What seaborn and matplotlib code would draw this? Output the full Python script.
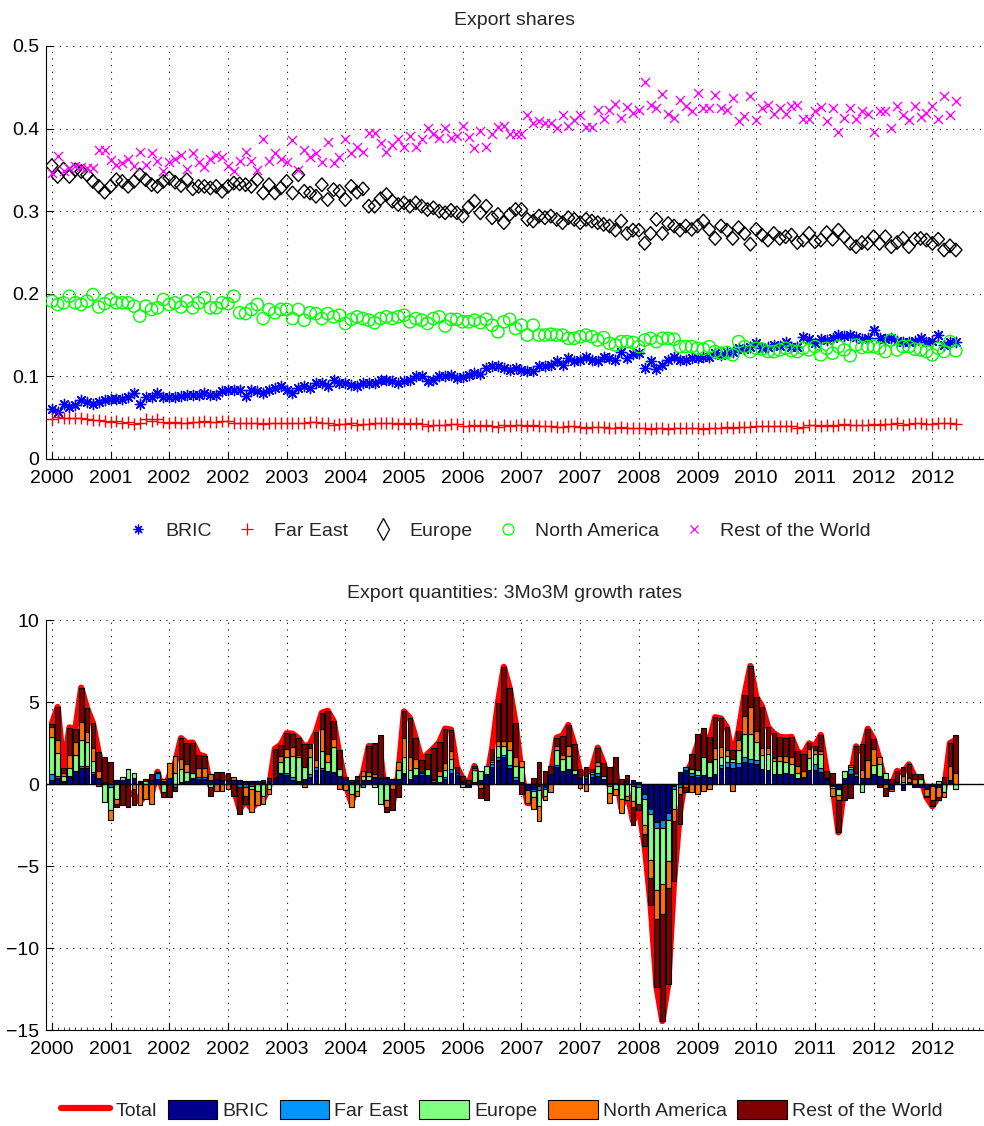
import numpy as np
import pandas as pd
import matplotlib
matplotlib.use("Agg")
import matplotlib.pyplot as plt
import seaborn as sns
from matplotlib import font_manager
from matplotlib.lines import Line2D
from matplotlib.patches import Patch
from matplotlib.path import Path

# x tick labels, one every 10 months
tick_labels = ["2000", "2001", "2002", "2002", "2003", "2004", "2005", "2006",
               "2007", "2007", "2008", "2009", "2010", "2011", "2012", "2012"]

# export shares (monthly)
bric_share = [
    .061, .057, .067, .063, .065, .071, .069, .067, .069, .071,
    .073, .073, .073, .075, .080, .067, .075, .075, .080, .075,
    .075, .075, .076, .077, .078, .077, .080, .078, .077, .082,
    .084, .084, .083, .076, .083, .082, .080, .084, .086, .088,
    .084, .080, .086, .088, .086, .092, .092, .088, .096, .092,
    .092, .090, .088, .092, .092, .092, .095, .096, .094, .092,
    .094, .096, .101, .100, .094, .096, .100, .101, .102, .098,
    .099, .102, .104, .103, .110, .112, .112, .110, .108, .110,
    .108, .107, .106, .112, .112, .114, .118, .114, .122, .118,
    .120, .124, .120, .118, .123, .122, .120, .130, .122, .127,
    .128, .110, .118, .109, .114, .120, .124, .120, .120, .122,
    .122, .123, .124, .128, .126, .130, .130, .134, .133, .135,
    .140, .134, .136, .138, .137, .142, .136, .136, .148, .145,
    .140, .145, .144, .146, .150, .149, .150, .148, .145, .146,
    .156, .146, .145, .146, .143, .142, .141, .143, .146, .142,
    .143, .150, .138, .142, .142]
fareast_share = [
    .048, .051, .050, .049, .050, .049, .048, .047, .047, .046,
    .045, .046, .044, .045, .042, .043, .048, .046, .048, .045,
    .044, .045, .044, .044, .045, .045, .046, .045, .045, .046,
    .046, .043, .044, .044, .043, .044, .042, .043, .043, .043,
    .043, .044, .043, .044, .045, .045, .044, .043, .041, .042,
    .042, .043, .041, .042, .042, .043, .043, .044, .043, .042,
    .043, .042, .043, .042, .040, .041, .041, .041, .042, .042,
    .040, .040, .041, .040, .041, .040, .039, .041, .040, .041,
    .041, .040, .041, .040, .040, .040, .039, .039, .040, .040,
    .039, .038, .039, .039, .039, .038, .038, .039, .038, .038,
    .038, .037, .036, .037, .038, .036, .037, .037, .038, .038,
    .037, .036, .038, .038, .038, .039, .038, .039, .039, .039,
    .040, .040, .040, .040, .040, .040, .040, .037, .039, .041,
    .041, .040, .041, .040, .041, .042, .041, .041, .041, .041,
    .042, .041, .042, .042, .043, .041, .042, .043, .043, .042,
    .042, .043, .043, .043, .042]
europe_share = [
    .355, .342, .351, .342, .350, .348, .344, .336, .330, .323,
    .330, .338, .336, .330, .336, .344, .338, .332, .330, .336,
    .340, .335, .331, .338, .327, .330, .330, .328, .330, .324,
    .330, .334, .333, .332, .330, .338, .322, .332, .322, .328,
    .336, .322, .344, .324, .322, .318, .332, .314, .326, .324,
    .314, .330, .323, .327, .306, .306, .315, .320, .312, .308,
    .310, .306, .310, .306, .302, .304, .300, .298, .301, .298,
    .294, .305, .312, .298, .306, .292, .296, .286, .296, .302,
    .302, .290, .288, .294, .292, .294, .290, .286, .292, .290,
    .286, .290, .288, .286, .284, .282, .277, .288, .273, .277,
    .277, .261, .273, .290, .273, .285, .282, .277, .282, .278,
    .282, .288, .278, .267, .282, .277, .267, .280, .273, .260,
    .278, .271, .265, .273, .267, .269, .271, .262, .265, .273,
    .263, .265, .274, .266, .277, .269, .261, .257, .262, .261,
    .269, .261, .269, .257, .262, .267, .257, .266, .267, .265,
    .261, .266, .253, .258, .253]
namerica_share = [
    .191, .187, .189, .197, .189, .187, .191, .199, .184, .188,
    .193, .189, .189, .189, .185, .173, .185, .181, .183, .193,
    .187, .189, .184, .191, .183, .189, .195, .183, .183, .189,
    .188, .197, .177, .176, .181, .187, .170, .181, .177, .181,
    .181, .170, .181, .168, .177, .176, .170, .176, .172, .174,
    .164, .169, .172, .170, .168, .165, .170, .172, .170, .172,
    .174, .166, .170, .168, .164, .170, .172, .161, .169, .169,
    .166, .166, .168, .165, .169, .162, .154, .166, .169, .158,
    .162, .150, .162, .150, .150, .151, .150, .150, .146, .146,
    .148, .150, .148, .144, .147, .140, .138, .142, .142, .141,
    .136, .144, .146, .142, .146, .146, .145, .136, .136, .136,
    .134, .133, .136, .130, .128, .129, .126, .142, .136, .130,
    .134, .133, .130, .130, .132, .134, .131, .130, .134, .132,
    .136, .126, .134, .128, .136, .132, .125, .138, .135, .136,
    .136, .134, .130, .144, .132, .136, .136, .133, .132, .130,
    .126, .134, .130, .142, .131]
row_share = [
    .346, .367, .348, .352, .355, .354, .352, .352, .374, .374,
    .362, .356, .358, .363, .355, .372, .356, .370, .361, .348,
    .359, .363, .368, .351, .370, .360, .354, .363, .368, .366,
    .355, .349, .361, .371, .361, .350, .387, .361, .370, .363,
    .360, .386, .350, .374, .366, .370, .359, .384, .358, .366,
    .387, .370, .378, .371, .395, .395, .382, .371, .380, .387,
    .378, .391, .378, .387, .401, .393, .389, .401, .389, .391,
    .403, .390, .376, .397, .378, .394, .402, .403, .393, .393,
    .393, .417, .407, .409, .407, .407, .401, .416, .403, .410,
    .417, .402, .402, .423, .411, .422, .430, .413, .426, .419,
    .423, .456, .428, .425, .442, .418, .413, .435, .427, .421,
    .443, .425, .425, .441, .425, .422, .437, .409, .415, .440,
    .410, .425, .429, .418, .425, .418, .427, .428, .411, .411,
    .421, .426, .409, .425, .396, .413, .425, .411, .421, .418,
    .396, .421, .421, .401, .427, .416, .410, .427, .414, .419,
    .427, .411, .439, .416, .433]

# contributions to 3Mo3M export growth
bric_growth = [
    .27, .4, .15, .5, .8, .95, 1.0, .63, .33, .1,
    0, .22, .25, .33, .4, .1, 0, .25, .3, .2,
    .4, 0, .1, .2, .33, .3, .33, .25, .3, .22,
    .2, .25, .25, .1, .2, .2, .1, .2, .4, .6,
    .53, .22, .1, .22, .43, .88, .85, .8, .75, .5,
    .33, .1, .25, .22, .22, .43, .37, .37, .33, .33,
    .6, .33, .57, .57, .53, .12, .1, .33, .67, .53,
    .1, -.2, .15, .22, .6, 1.05, 1.45, 1.65, 1.0, .22,
    .12, -.35, -.3, -.12, -.2, .63, 1.05, .8, .9, .63,
    .37, .37, .43, .47, .33, .05, .05, 0, .2, .25,
    .1, -.63, -1.55, -2.3, -2.2, -1.75, -.1, .73, .88, .47,
    .43, .53, .43, .63, .95, 1.05, 1.0, 1.05, 1.35, 1.3,
    1.25, .9, .88, .63, .63, .67, .63, .37, .4, .88,
    .88, .73, .3, -.1, -.3, .37, .63, .5, .37, .37,
    .63, .5, .33, -.3, .1, -.35, .1, -.15, -.2, -.3,
    -.1, -.2, 0, .25, 0]
fareast_growth = [
    .37, .1, .05, 0, 0, .18, .08, .1, -.1, 0,
    -.18, 0, 0, 0, 0, .1, 0, 0, .35, 0,
    0, -.2, 0, 0, .05, .15, .1, 0, 0, 0,
    .05, 0, -.2, -.2, -.1, 0, 0, 0, 0, .08,
    .12, .2, .1, .1, .2, .15, .15, 0, 0, 0,
    0, 0, 0, -.15, 0, 0, 0, .05, 0, 0,
    .08, 0, 0, .1, 0, .1, 0, .1, .25, .14,
    0, 0, 0, 0, 0, .15, .2, .15, .15, .2,
    0, 0, -.1, -.25, -.1, 0, .1, 0, 0, 0,
    0, .1, .2, .2, 0, -.1, 0, 0, 0, -.1,
    -.2, -.25, -.3, -.4, -.45, -.45, -.2, -.2, .15, .2,
    .15, 0, 0, 0, .2, .3, .35, .25, .3, .2,
    .2, 0, 0, 0, 0, 0, 0, 0, 0, 0,
    .33, .27, .1, 0, 0, 0, .3, .2, 0, 0,
    0, 0, 0, 0, .05, 0, 0, 0, 0, 0,
    0, 0, 0, 0, 0]
europe_growth = [
    2.25, 1.4, .3, .45, 1.0, 1.55, 1.5, .7, .05, -1.1,
    -1.4, -.9, .2, .57, .25, 0, .2, 0, 0, -.5,
    0, .7, .8, .55, .3, 0, 0, -.2, 0, 0,
    0, 0, 0, .1, -.2, -.4, -.7, -.3, 0, .67,
    1.0, 1.3, 1.45, .7, 1.0, 0, 1.0, .55, 1.5, .4,
    0, -.6, -.4, .25, .25, -.2, -1.2, -1.0, 0, .5,
    1.0, .5, .43, .06, .4, .1, .4, .45, .6, 0,
    -.15, 0, .7, .6, .5, .15, .7, .55, .9, .7,
    .9, 0, -.4, -.95, -.4, 0, .95, .75, .8, .25,
    0, 0, .1, .45, .15, -.45, -.3, -.9, -.7, -.95,
    -1.0, -1.6, -2.75, -3.75, -3.45, -2.5, -1.2, 0, 0, .25,
    .3, 1.15, .9, .9, .5, .37, .2, .8, 1.4, 1.55,
    1.1, .9, .93, .78, .8, .67, .6, .33, .05, .73,
    .6, .85, 0, -.15, -.35, .43, .1, 0, -.5, 0,
    .55, .7, .37, 0, 0, .1, 0, 0, .3, 0,
    0, .2, -.5, 0, -.3]
namerica_growth = [
    .6, .8, .2, .8, .78, 1.1, .6, .8, .4, .05,
    -.6, -.3, 0, 0, -.3, -1.3, -.9, -1.2, 0, .1,
    .9, 1.0, .6, .45, 0, .55, .57, .35, -.4, -.4,
    -.3, .2, 0, -.55, -1.4, -.9, -.5, -.3, 0, .35,
    .5, .55, .1, -.2, .57, .45, 1.35, .47, .5, -.3,
    -.35, -.8, -.3, .33, .25, .2, 0, -.4, -.3, .5,
    1.15, .8, .5, 0, 0, 0, .3, .4, .5, 0,
    .1, 0, .15, -.25, 0, .1, .3, .3, .6, .55,
    .37, -.8, -.75, -.95, -.25, -.5, .2, .2, .6, 0,
    -.25, -.4, 0, .2, 0, -.6, -.35, -.85, -.3, -.35,
    0, -.55, -1.15, -1.75, -1.85, -1.65, -.75, -.4, -.2, -.5,
    -.6, -.4, -.3, .7, .6, .35, -.4, .57, 1.1, 1.65,
    .67, .43, .4, .15, .3, .4, .45, .4, .37, .5,
    .25, .15, 0, -.5, -.3, 0, .12, 0, .47, 1.1,
    .98, .45, -.25, -.1, 0, .37, .3, .3, 0, -.4,
    -.9, -.6, -.3, .85, .7]
row_growth = [
    .2, 2.0, .25, 1.7, .75, 2.1, 1.45, 1.5, 1.2, 1.5,
    1.35, -.2, -1.3, -1.4, -1.0, 0, .1, .35, .1, -.3,
    -.8, -.2, 1.3, 1.3, 1.85, .8, .7, -.5, .45, .5,
    .45, -.75, -1.6, -.45, 0, 0, .15, .2, 1.75, .7,
    .95, .8, 1.05, 1.45, .25, 1.7, 1.0, 2.65, 1.1, 1.2,
    .1, .15, .22, 0, 1.6, 1.85, 2.6, -.3, -1.3, -.8,
    1.6, 2.4, 1.3, .75, .9, 1.85, 1.75, 2.1, 1.3, .37,
    .3, .22, .1, -.6, -1.0, .7, 2.3, 4.5, 3.2, 2.05,
    -.6, 0, .37, 1.35, .8, .45, .53, 1.2, 1.3, 1.55,
    .57, .6, .2, .9, .8, 1.0, 1.6, .3, .35, -1.1,
    -.4, -.75, -1.6, -4.15, -6.5, -5.85, -3.65, -1.85, -.3, .9,
    2.15, 1.75, 1.55, 1.85, 1.75, 1.4, .55, .57, 1.3, 2.5,
    2.1, 2.5, 1.27, 1.53, 1.15, 1.1, 1.2, .9, 1.0, .37,
    .25, 1.0, .37, .67, -2.0, -1.0, -.85, 1.6, 1.63, 1.9,
    .6, -.15, -.45, .3, .65, .57, .8, .3, .3, -.1,
    -.35, -.2, .43, 1.4, 2.3]

regions = ["BRIC", "Far East", "Europe", "North America", "Rest of the World"]

# --- style -------------------------------------------------------------
sns.set_style("ticks")
names = {f.name for f in font_manager.fontManager.ttflist}
if "Liberation Sans Narrow" in names:
    fs = 17
else:
    fs = 14
plt.rcParams["font.family"] = ["Liberation Sans Narrow", "Liberation Sans", "DejaVu Sans"]
plt.rcParams["font.size"] = fs

grid_kw = dict(color="k", linestyle=(0, (1, 5)), linewidth=0.8)


def style_axes(ax):
    sns.despine(ax=ax, top=True, right=True)
    ax.spines["left"].set_color("k")
    ax.spines["bottom"].set_color("k")
    ax.set_xlim(-1, 158.8)
    ax.set_xticks(np.arange(0, 160, 10))
    ax.set_xticklabels(tick_labels)
    ax.set_xticks(np.arange(0, 159, 1), minor=True)
    ax.tick_params(axis="both", which="major", direction="in", length=5,
                   width=0.8, colors="k", labelsize=fs)
    ax.tick_params(axis="x", which="major", pad=8)
    ax.tick_params(axis="y", which="major", pad=5)
    ax.tick_params(axis="x", which="minor", direction="in", length=2, width=0.6)
    ax.grid(True, which="major", **grid_kw)
    ax.set_axisbelow(True)
    ax.set_xlabel("")
    ax.set_ylabel("")


fig = plt.figure(figsize=(9.84, 11.26), dpi=100)
ax1 = fig.add_axes([0.0467, 0.5924, 0.9533, 0.3668])
ax2 = fig.add_axes([0.0467, 0.0852, 0.9533, 0.3641])

# --- top: export shares ------------------------------------------------
months = np.arange(len(bric_share))
diamond = Path([(0, 1), (0.92, 0), (0, -1), (-0.92, 0), (0, 1)],
               [Path.MOVETO, Path.LINETO, Path.LINETO, Path.LINETO, Path.CLOSEPOLY])

shares = pd.DataFrame({"month": months, "BRIC": bric_share, "Far East": fareast_share,
                       "Europe": europe_share, "North America": namerica_share,
                       "Rest of the World": row_share})

sns.scatterplot(data=shares, x="month", y="BRIC", ax=ax1, marker=(8, 2, 0),
                color="#0000ff", s=55, linewidth=1.0, zorder=3)
sns.scatterplot(data=shares, x="month", y="Far East", ax=ax1, marker="+",
                color="#ff0000", s=65, linewidth=1.0, zorder=3)
sns.scatterplot(data=shares, x="month", y="Europe", ax=ax1, marker=diamond,
                color="k", facecolor="none", edgecolor="k", s=96, linewidth=1.0, zorder=3)
sns.scatterplot(data=shares, x="month", y="North America", ax=ax1, marker="o",
                color="#00ff00", facecolor="none", edgecolor="#00ff00", s=78,
                linewidth=1.0, zorder=3)
sns.scatterplot(data=shares, x="month", y="Rest of the World", ax=ax1, marker="x",
                color="#ff00ff", s=42, linewidth=1.0, zorder=3)

ax1.set_ylim(0, 0.5)
ax1.set_yticks([0, 0.1, 0.2, 0.3, 0.4, 0.5])
ax1.set_yticklabels(["0", "0.1", "0.2", "0.3", "0.4", "0.5"])
style_axes(ax1)
ax1.set_title("Export shares", fontsize=fs, pad=15)

top_handles = [
    Line2D([], [], ls="none", marker=(8, 2, 0), ms=7, mew=0.9, color="#0000ff"),
    Line2D([], [], ls="none", marker="+", ms=8, mew=0.9, color="#ff0000"),
    Line2D([], [], ls="none", marker="d", ms=11, mew=0.9, mfc="none", mec="k"),
    Line2D([], [], ls="none", marker="o", ms=8, mew=0.9, mfc="none", mec="#00ff00"),
    Line2D([], [], ls="none", marker="x", ms=6, mew=0.9, color="#ff00ff"),
]
fig.legend(top_handles, regions, loc="center", bbox_to_anchor=(0.508, 0.5284), ncol=5,
           frameon=False, fontsize=fs, handlelength=1.0, handletextpad=0.88,
           columnspacing=1.3, borderpad=0)

# --- bottom: growth contributions -------------------------------------
bar_colors = ["#00008f", "#0096ff", "#80ff80", "#ff7000", "#800000"]
growth = [bric_growth, fareast_growth, europe_growth, namerica_growth, row_growth]
x = np.arange(len(bric_growth))
total = np.sum(np.array(growth, dtype=float), axis=0)

sns.lineplot(x=x, y=total, ax=ax2, color="#ff0000", linewidth=4.5, zorder=2,
             solid_joinstyle="round")

pos_base = np.zeros(len(x))
neg_base = np.zeros(len(x))
for vals, col in zip(growth, bar_colors):
    v = np.asarray(vals, dtype=float)
    base = np.where(v >= 0, pos_base, neg_base)
    ax2.bar(x, v, bottom=base, width=0.8, color=col, edgecolor="k",
            linewidth=0.8, zorder=3)
    pos_base += np.clip(v, 0, None)
    neg_base += np.clip(v, None, 0)

ax2.axhline(0, color="k", linewidth=1, zorder=4)
ax2.set_ylim(-15, 10)
ax2.set_yticks([-15, -10, -5, 0, 5, 10])
style_axes(ax2)
ax2.set_title("Export quantities: 3Mo3M growth rates", fontsize=fs, pad=16)

bottom_handles = [Line2D([], [], color="#ff0000", linewidth=4.5)]
bottom_handles += [Patch(facecolor=c, edgecolor="k", linewidth=0.8) for c in bar_colors]
fig.legend(bottom_handles, ["Total"] + regions, loc="center",
           bbox_to_anchor=(0.51, 0.0142), ncol=6, frameon=False, fontsize=fs,
           handlelength=2.55, handleheight=1.15, handletextpad=0.27,
           columnspacing=0.55, borderpad=0)

fig.savefig("out.png", dpi=100)
